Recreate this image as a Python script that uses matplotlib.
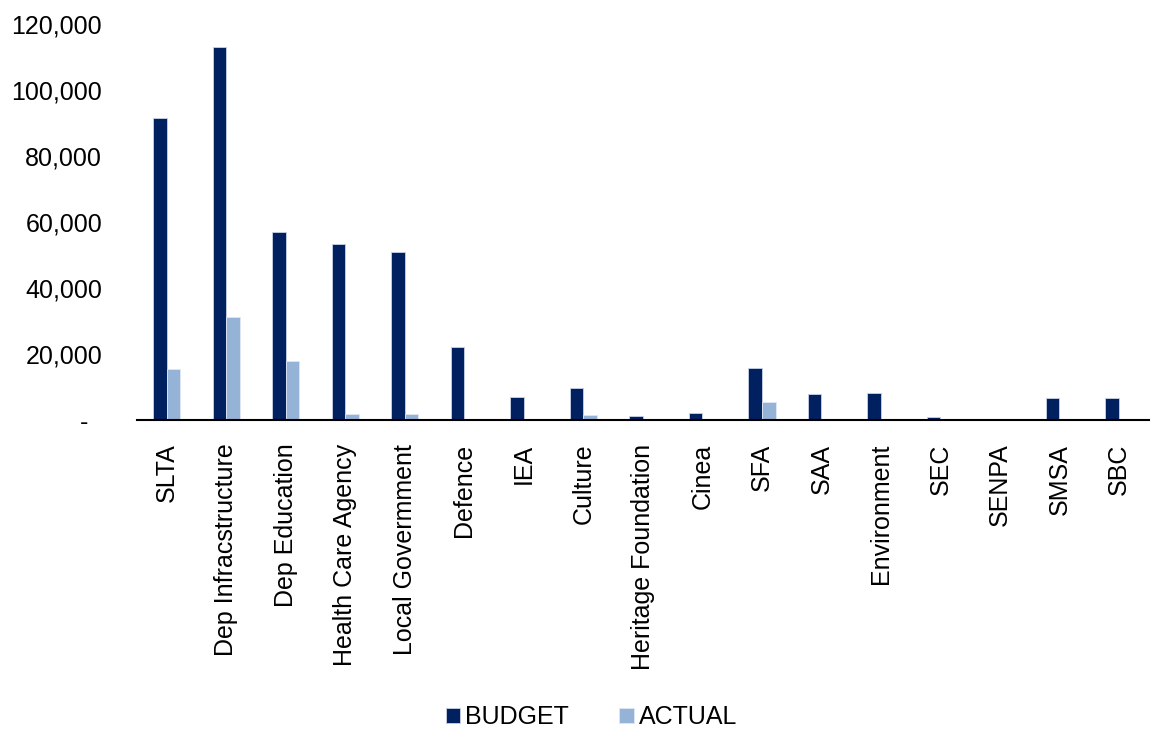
import numpy as np
import matplotlib.pyplot as plt
from matplotlib.ticker import FuncFormatter

plt.rcParams['font.family'] = ['Liberation Sans', 'DejaVu Sans']

# Data
categories = ['SLTA', 'Dep Infracstructure', 'Dep Education', 'Health Care Agency',
              'Local Govermment', 'Defence', 'IEA', 'Culture', 'Heritage Foundation',
              'Cinea', 'SFA', 'SAA', 'Environment', 'SEC', 'SENPA', 'SMSA', 'SBC']
budget = [91400, 113000, 57000, 53300, 50900, 22000, 7100, 9600, 1200,
          2000, 15700, 7800, 8300, 800, 300, 6750, 6750]
actual = [15350, 31200, 17900, 1800, 1800, 0, 0, 1500, 300,
          0, 5450, 0, 0, 0, 0, 0, 0]

budget_color = '#002060'
actual_color = '#95B3D7'

fig = plt.figure(figsize=(11.51, 7.31), dpi=100)
ax = fig.add_axes([0.119, 0.4254, 0.879, 0.5416])

x = np.arange(len(categories))
w = 0.23
ax.bar(x - w / 2, budget, width=w, color=budget_color, edgecolor='#c9d3e6',
       linewidth=0.6, label='BUDGET')
ax.bar(x + w / 2, actual, width=w, color=actual_color, edgecolor='#dfe7f2',
       linewidth=0.6, label='ACTUAL')

ax.set_xlim(-0.5, len(categories) - 0.5)
ax.set_ylim(0, 120000)
ax.set_yticks(np.arange(0, 120001, 20000))
# accounting-style zero shown as a dash
ax.yaxis.set_major_formatter(FuncFormatter(lambda v, p: '-  ' if v == 0 else f'{int(v):,}'))

ax.set_xticks(x)
ax.set_xticklabels(categories, rotation=90, fontsize=18)
ax.tick_params(axis='y', length=0, labelsize=18, pad=25)
ax.tick_params(axis='x', length=0, pad=17)

for s in ['top', 'right', 'left']:
    ax.spines[s].set_visible(False)
ax.spines['bottom'].set_color('black')
ax.spines['bottom'].set_linewidth(1.5)

fig.legend(loc='center', bbox_to_anchor=(0.514, 0.019), ncol=2, frameon=False,
           fontsize=18, handlelength=0.58, handleheight=0.58, handletextpad=0.2,
           columnspacing=2.0)

fig.savefig('out.png', dpi=100)
